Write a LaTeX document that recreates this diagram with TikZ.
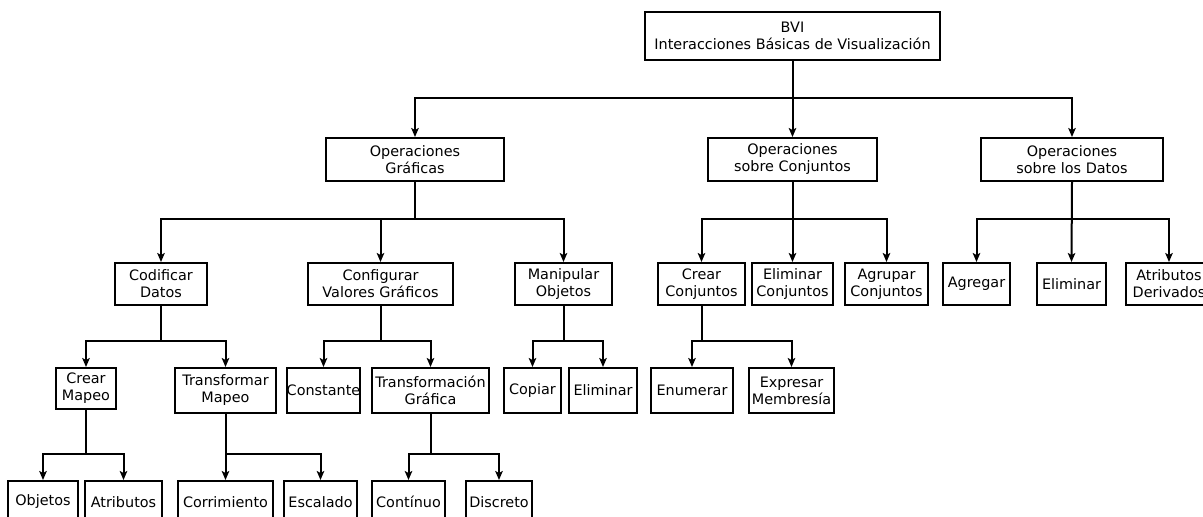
\documentclass[tikz,border=0pt]{standalone}
\usepackage{fontspec}
\setmainfont{DejaVu Sans}
\usepackage{tikz}
\usetikzlibrary{arrows.meta, positioning}

\begin{document}
\begin{tikzpicture}[
    x=1pt, y=-1pt,
    opbox/.style={rectangle, draw=black, line width=2pt, fill=white, inner sep=0pt, minimum width=#1pt, minimum height=42pt, align=center, font=\fontsize{14.4}{17}\selectfont},
    arrow/.style={-{Stealth[length=9pt, width=7.5pt, inset=2pt]}, line width=2pt, black}
]
    \useasboundingbox (0,0) rectangle (1203,517);
    \clip (0,0) rectangle (1203,517);

    \node[opbox=295, minimum height=48pt] (root) at (792.5,36) {BVI\\Interacciones Básicas de Visualización};

    % Level 1
    \node[opbox=178, minimum height=43pt] (og) at (415,159.5) {Operaciones\\Gráficas};
    \node[opbox=169, minimum height=43pt] (oc) at (792.5,159.5) {Operaciones\\sobre Conjuntos};
    \node[opbox=182, minimum height=43pt] (od) at (1072,159.5) {Operaciones\\sobre los Datos};

    % Level 2
    \node[opbox=92] (cd) at (161,284) {Codificar\\Datos};
    \node[opbox=145] (cv) at (380.5,284) {Configurar\\Valores Gráficos};
    \node[opbox=97] (mo) at (563.5,284) {Manipular\\Objetos};
    \node[opbox=87] (cc) at (701.5,284) {Crear\\Conjuntos};
    \node[opbox=81] (ec) at (792.5,284) {Eliminar\\Conjuntos};
    \node[opbox=83] (gc) at (886.5,284) {Agrupar\\Conjuntos};
    \node[opbox=67] (ag) at (976.5,284) {Agregar};
    \node[opbox=69] (ed) at (1071.5,284) {Eliminar};
    \node[opbox=86] (ad) at (1169,284) {Atributos\\Derivados};

    % Level 3
    \node[opbox=60, minimum height=41pt] (cm) at (86,388.5) {Crear\\Mapeo};
    \node[opbox=101, minimum height=45pt] (tm) at (225.5,390.5) {Transformar\\Mapeo};
    \node[opbox=73, minimum height=45pt] (cs) at (323.5,390.5) {Constante};
    \node[opbox=117, minimum height=45pt] (tg) at (430.5,390.5) {Transformación\\Gráfica};
    \node[opbox=57, minimum height=45pt] (cp) at (532.5,390.5) {Copiar};
    \node[opbox=68, minimum height=45pt] (eo) at (603,390.5) {Eliminar};
    \node[opbox=82, minimum height=45pt] (en) at (692,390.5) {Enumerar};
    \node[opbox=85, minimum height=45pt] (em) at (791.5,390.5) {Expresar\\Membresía};

    % Level 4
    \node[opbox=70] (ob) at (43,502) {Objetos};
    \node[opbox=77] (at) at (123.5,502) {Atributos};
    \node[opbox=95] (cr) at (225.5,502) {Corrimiento};
    \node[opbox=73] (es) at (320.5,502) {Escalado};
    \node[opbox=73] (ct) at (408.5,502) {Contínuo};
    \node[opbox=66] (di) at (499,502) {Discreto};

    \draw[arrow] (root.south) -- ++(0,37) -| (og.north);
    \draw[arrow] (root.south) -- (oc.north);
    \draw[arrow] (root.south) -- ++(0,37) -| (od.north);

    \draw[arrow] (og.south) -- ++(0,37) -| (cd.north);
    \draw[arrow] (og.south) -- ++(0,37) -| (cv.north);
    \draw[arrow] (og.south) -- ++(0,37) -| (mo.north);
    \draw[arrow] (oc.south) -- ++(0,37) -| (cc.north);
    \draw[arrow] (oc.south) -- (ec.north);
    \draw[arrow] (oc.south) -- ++(0,37) -| (gc.north);
    \draw[arrow] (od.south) -- ++(0,37) -| (ag.north);
    \draw[arrow] (od.south) -- (ed.north);
    \draw[arrow] (od.south) -- ++(0,37) -| (ad.north);

    \draw[arrow] (cd.south) -- ++(0,35) -| (cm.north);
    \draw[arrow] (cd.south) -- ++(0,35) -| (tm.north);
    \draw[arrow] (cv.south) -- ++(0,35) -| (cs.north);
    \draw[arrow] (cv.south) -- ++(0,35) -| (tg.north);
    \draw[arrow] (mo.south) -- ++(0,35) -| (cp.north);
    \draw[arrow] (mo.south) -- ++(0,35) -| (eo.north);
    \draw[arrow] (cc.south) -- ++(0,35) -| (en.north);
    \draw[arrow] (cc.south) -- ++(0,35) -| (em.north);

    \draw[arrow] (cm.south) -- ++(0,44) -| (ob.north);
    \draw[arrow] (cm.south) -- ++(0,44) -| (at.north);
    \draw[arrow] (tm.south) -- ++(0,40) -| (cr.north);
    \draw[arrow] (tm.south) -- ++(0,40) -| (es.north);
    \draw[arrow] (tg.south) -- ++(0,40) -| (ct.north);
    \draw[arrow] (tg.south) -- ++(0,40) -| (di.north);
\end{tikzpicture}
\end{document}
